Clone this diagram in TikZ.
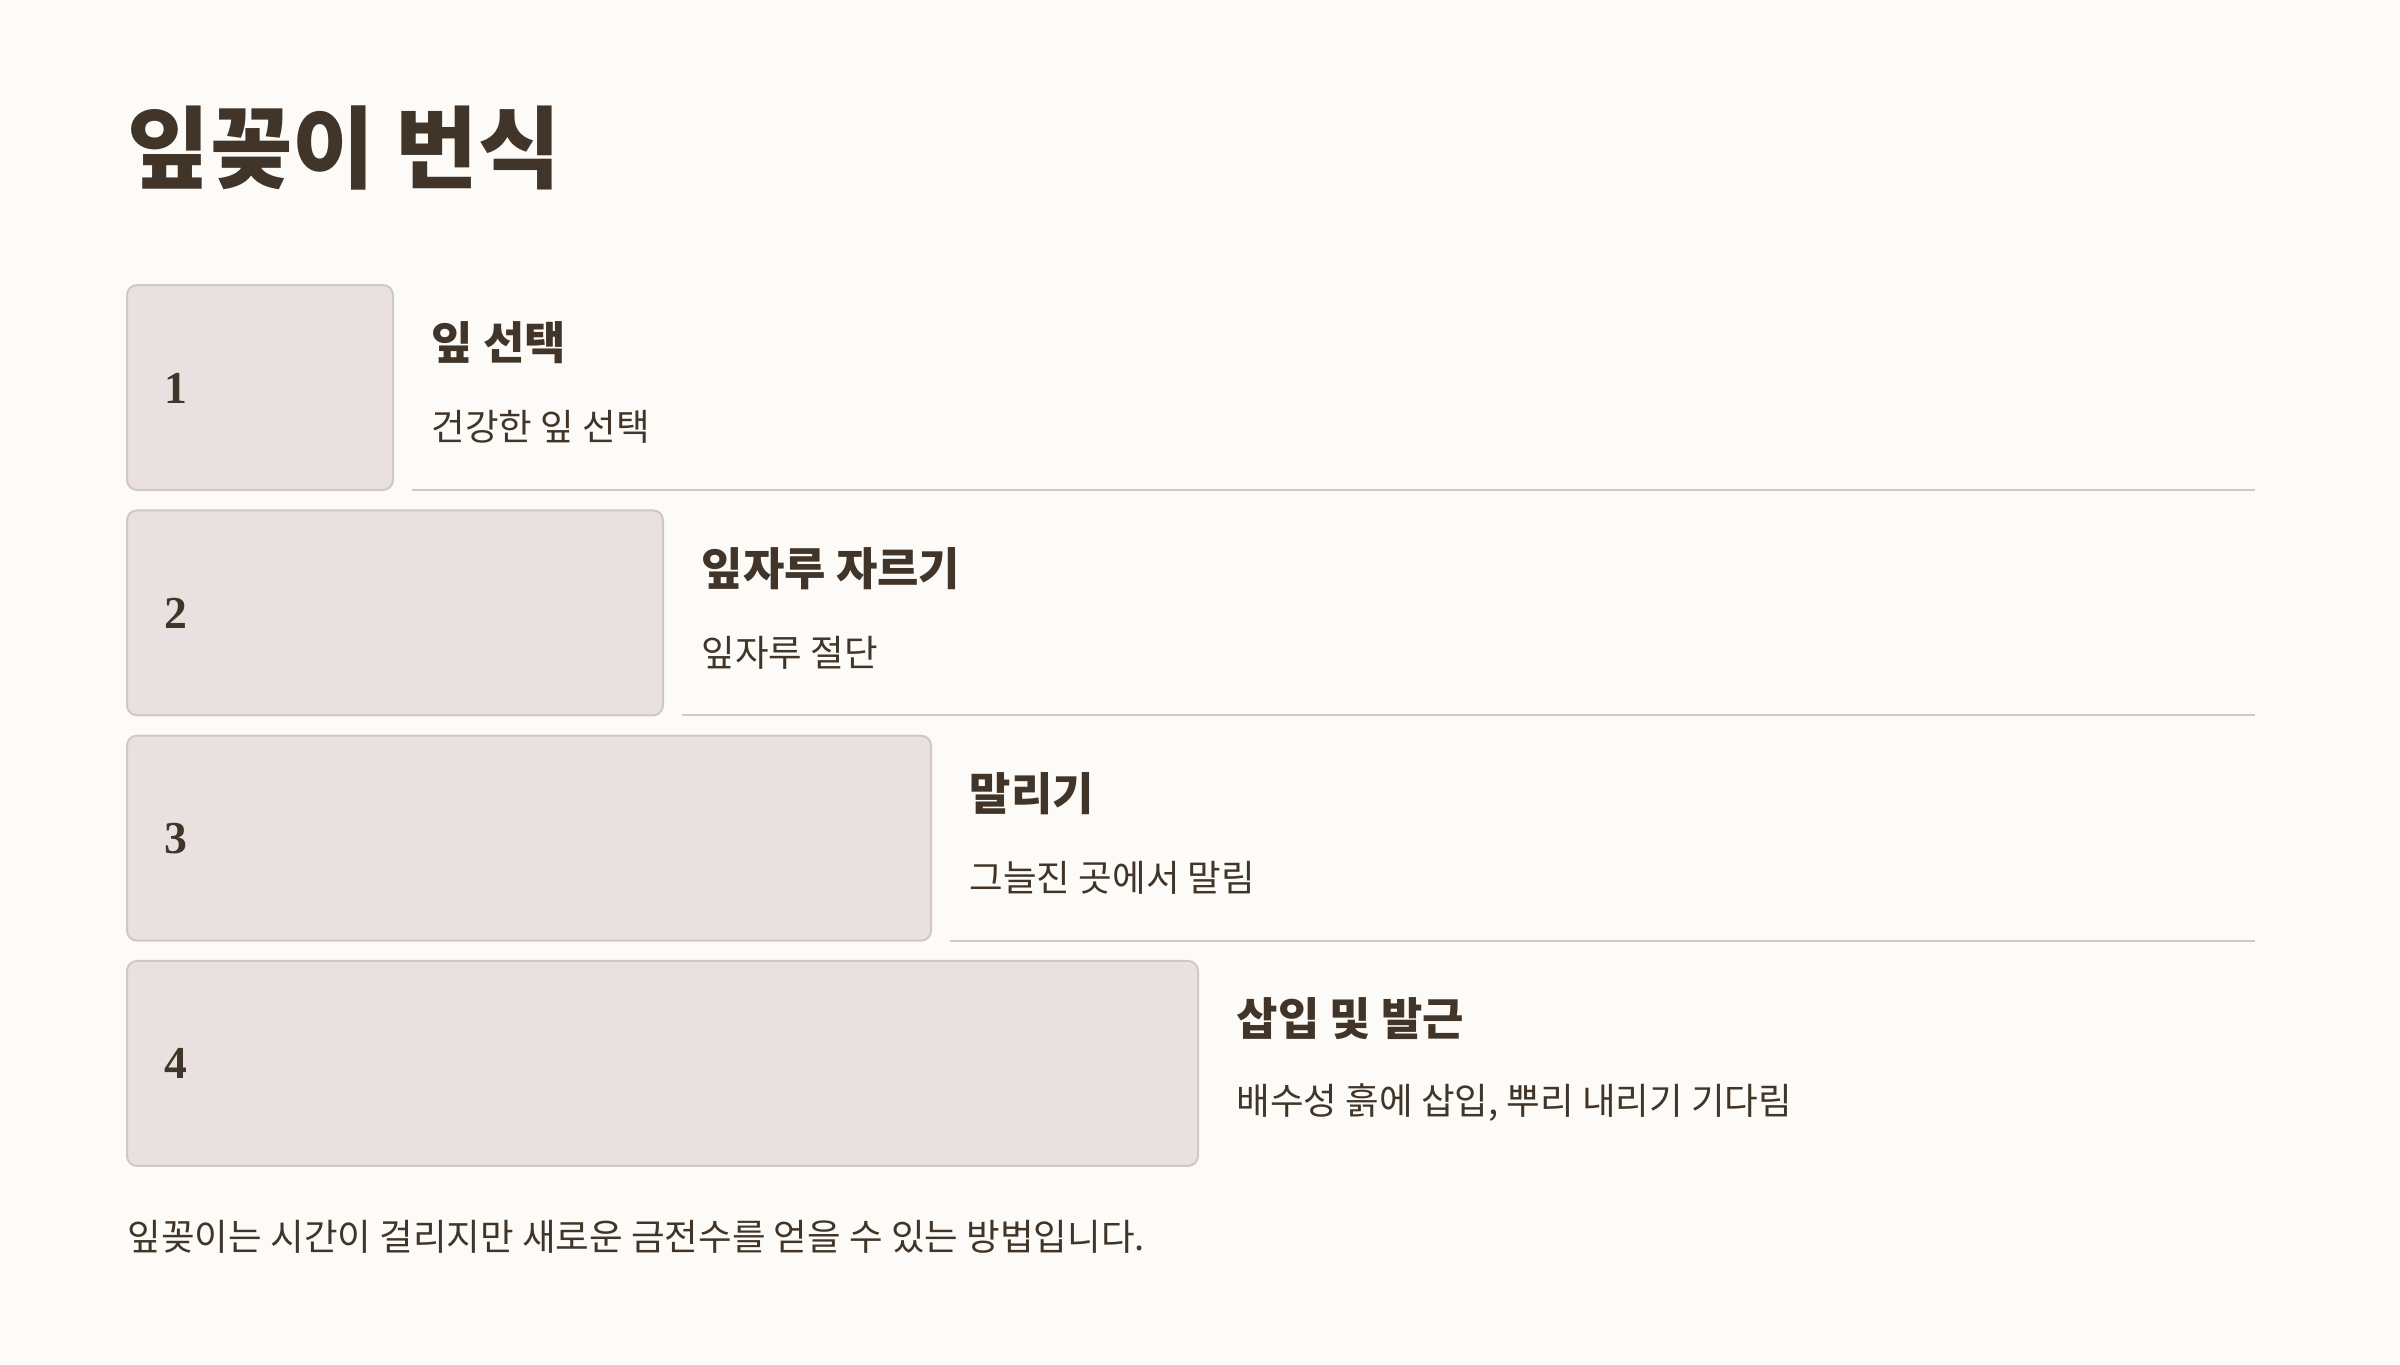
\documentclass[tikz,border=0pt]{standalone}
\usepackage{fontspec}
\newfontfamily\krfont{Noto Sans CJK KR}
\newfontfamily\numfont{Liberation Serif}
\usetikzlibrary{calc}
\definecolor{pagecream}{RGB}{253,251,248}
\definecolor{stepfill}{RGB}{232,225,224}
\definecolor{stepdraw}{RGB}{208,200,199}
\definecolor{inkbrown}{RGB}{64,53,40}
\tikzstyle{stepbox}=[draw=stepdraw,fill=stepfill,line width=0.2mm,rounded corners=1mm]
\tikzstyle{rowline}=[draw=stepdraw,line width=0.2mm]
\tikzstyle{headtext}=[anchor=west,inner sep=0pt,text=inkbrown,font=\krfont\bfseries\fontsize{12.8}{15}\selectfont]
\tikzstyle{desctext}=[anchor=west,inner sep=0pt,text=inkbrown,font=\krfont\fontsize{10.4}{13}\selectfont]
\tikzstyle{numtext}=[anchor=west,inner sep=0pt,text=inkbrown,font=\numfont\bfseries\fontsize{13}{15}\selectfont]

\begin{document}
\begin{tikzpicture}
    \fill[pagecream] (0,0) rectangle (24,-13.64);
    \useasboundingbox (0,0) rectangle (24,-13.64);
    \node[anchor=west,inner sep=0pt,text=inkbrown,font=\krfont\bfseries\fontsize{25.5}{30}\selectfont] (title) at (1.27,-1.48) {잎꽂이 번식};
    
    \foreach \n/\w/\head/\desc in {1/2.66/{잎 선택}/{건강한 잎 선택},
    	2/5.36/{잎자루 자르기}/{잎자루 절단},
    	3/8.04/{말리기}/{그늘진 곳에서 말림},
    	4/10.71/{삽입 및 발근}/{배수성 흙에 삽입, 뿌리 내리기 기다림}}{
    	\pgfmathsetmacro{\top}{-2.85-2.253*(\n-1)}
    	\draw[stepbox] (1.27,\top) rectangle ++(\w,-2.05);
    	\coordinate (box\n) at (1.27+\w,\top);
    	\node[numtext] (num\n) at (1.64,\top-1.03) {\n};
    	\node[headtext] (head\n) at ($(box\n)+(0.38,-0.58)$) {\head};
    	\node[desctext] (desc\n) at ($(box\n)+(0.38,-1.42)$) {\desc};
    }
    \foreach \n in {1,2,3}{
    	\draw[rowline] ($(box\n)+(0.19,-2.05)$) -- ($(22.55,0)!(box\n)!(22.55,-1)+(0,-2.05)$);
    }
    \node[desctext] (note) at (1.27,-12.37) {잎꽂이는 시간이 걸리지만 새로운 금전수를 얻을 수 있는 방법입니다.};
\end{tikzpicture}
\end{document}
